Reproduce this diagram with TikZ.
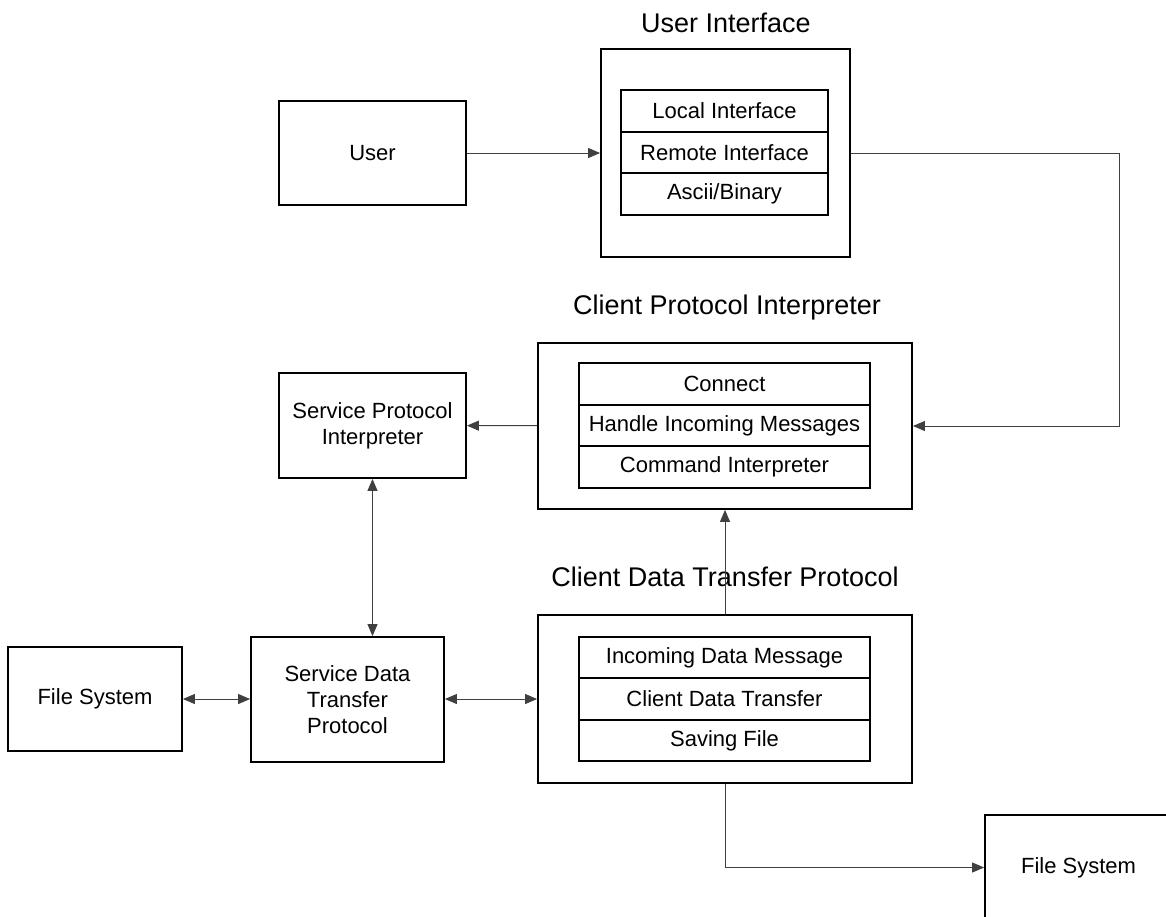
\documentclass[tikz,border=0pt]{standalone}
\usepackage{fontspec}
\setmainfont{Liberation Sans}
\usetikzlibrary{arrows.meta}

\begin{document}
\begin{tikzpicture}[x=0.5pt, y=-0.5pt,
        box/.style={draw, line width=0.9pt, inner sep=0pt, align=center, font=\fontsize{11}{13}\selectfont},
        row/.style={box, minimum height=20.75pt},
        title/.style={font=\fontsize{13.5}{16}\selectfont},
        link/.style={line width=0.5pt, draw=black!75},
        tip/.style={-{Triangle[length=6pt, width=5pt]}},
        both/.style={{Triangle[length=6pt, width=5pt]}-{Triangle[length=6pt, width=5pt]}}]
        \useasboundingbox (0,0) rectangle (1166,916);

        % User and the user interface
        \node[box, minimum width=93.5pt, minimum height=52pt] (user) at (372.5,153) {User};
        \node[title] (uititle) at (726,23) {User Interface};
        \node[box, minimum width=124.5pt, minimum height=104pt] (ui) at (725.5,153) {};
        \node[row, minimum width=103.5pt] (local) at (724.5,111) {Local Interface};
        \node[row, minimum width=103.5pt] (remote) at (724.5,152.5) {Remote Interface};
        \node[row, minimum width=103.5pt] (ascii) at (724.5,194) {Ascii/Binary};

        % Client protocol interpreter
        \node[title] (cpititle) at (727,308) {Client Protocol Interpreter};
        \node[box, minimum width=187pt, minimum height=83pt] (cpi) at (725,426) {};
        \node[row, minimum width=145.5pt] (connect) at (724.5,384) {Connect};
        \node[row, minimum width=145.5pt] (handle) at (724.5,425.5) {Handle Incoming Messages};
        \node[row, minimum width=145.5pt] (command) at (724.5,467) {Command Interpreter};

        % Service side
        \node[box, minimum width=93.5pt, minimum height=52.5pt] (spi) at (372.5,425.5) {Service Protocol\\Interpreter};
        \node[box, minimum width=96.5pt, minimum height=62.5pt] (sdtp) at (347.5,699.5) {Service Data\\Transfer\\Protocol};
        \node[box, minimum width=87pt, minimum height=52pt] (fsleft) at (95,699) {File System};

        % Client data transfer protocol
        \node[title] (cdtptitle) at (725,577) {Client Data Transfer Protocol};
        \node[box, minimum width=187pt, minimum height=84pt] (cdtp) at (725,699) {};
        \node[row, minimum width=145.5pt] (incoming) at (724.5,657.5) {Incoming Data Message};
        \node[row, minimum width=145.5pt] (transfer) at (724.5,699) {Client Data Transfer};
        \node[row, minimum width=145.5pt] (saving) at (724.5,740.5) {Saving File};

        \node[box, minimum width=93.5pt, minimum height=52.5pt] (fsright) at (1078.5,867.5) {File System};

        % Connectors
        \coordinate (bend) at (1119,153);
        \draw[link, tip] (user) -- (ui);
        \draw[link, tip] (ui.east) -- (bend) |- (cpi.east);
        \draw[link, tip] (cpi) -- (spi);
        \draw[link, both] (spi.south) -- (spi.south |- sdtp.north);
        \draw[link, both] (fsleft) -- (fsleft -| sdtp.west);
        \draw[link, both] (sdtp.east |- cdtp.west) -- (cdtp.west);
        \draw[link, tip] (cdtp.north) -- (cpi.south);
        \draw[link, tip] (cdtp.south) |- (fsright.west);
\end{tikzpicture}
\end{document}
